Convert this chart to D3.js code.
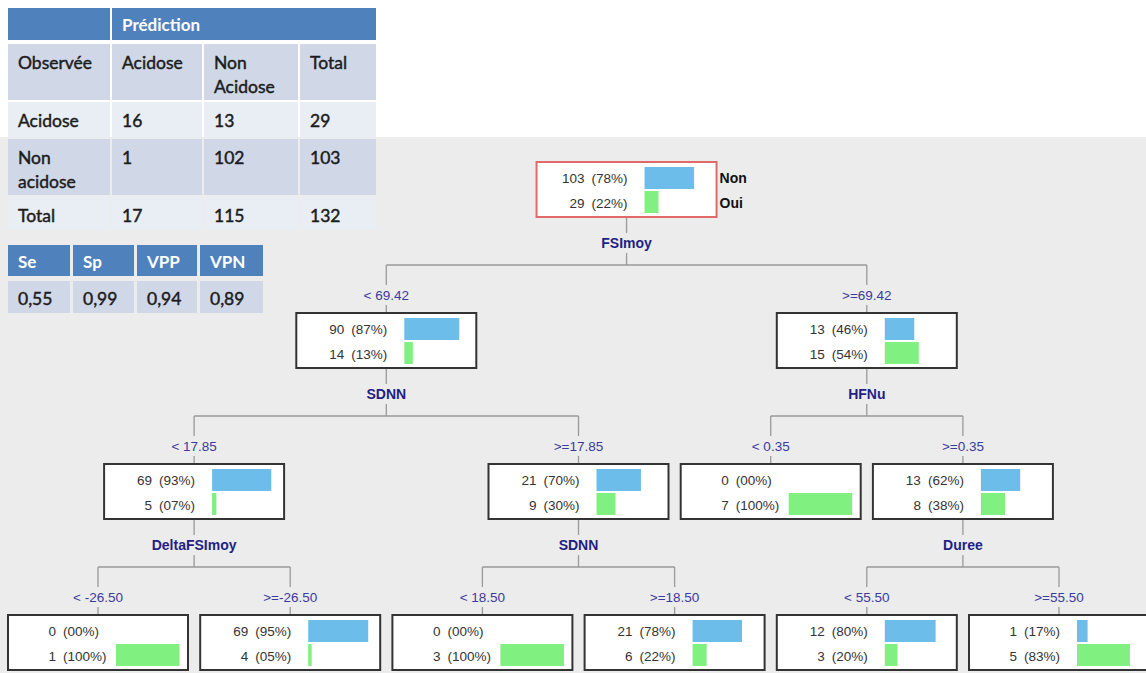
<!DOCTYPE html>
<html>
<head>
<meta charset="utf-8">
<script src="https://cdn.jsdelivr.net/npm/d3@7"></script>
<style>
  html, body { margin: 0; padding: 0; background: #ffffff; }
  svg { display: block; }
</style>
</head>
<body>
<div id="chart"></div>
<script>
// ---------------- DATA ----------------
// Confusion matrix
const predictionTitle = "Prédiction";
const confHeader = ["Observée", "Acidose", "Non Acidose", "Total"];
const confRowLabels = ["Acidose", "Non acidose", "Total"];
const confAcidose = [16, 1, 17];
const confNonAcidose = [13, 102, 115];
const confTotal = [29, 103, 132];

// Performance metrics
const metricLabels = ["Se", "Sp", "VPP", "VPN"];
const metricValues = ["0,55", "0,99", "0,94", "0,89"];

// Decision tree (flat arrays)
const nodeNames      = ["root", "L", "R", "LL", "LR", "RL", "RR", "LLL", "LLR", "LRL", "LRR", "RRL", "RRR"];
const nodeParents    = [null, "root", "root", "L", "L", "R", "R", "LL", "LL", "LR", "LR", "RR", "RR"];
const nodeConditions = ["", "< 69.42", ">=69.42", "< 17.85", ">=17.85", "< 0.35", ">=0.35", "< -26.50", ">=-26.50", "< 18.50", ">=18.50", "< 55.50", ">=55.50"];
const nodeSplitVars  = ["FSImoy", "SDNN", "HFNu", "DeltaFSImoy", "SDNN", "", "Duree", "", "", "", "", "", ""];
const nonCounts      = [103, 90, 13, 69, 21, 0, 13, 0, 69, 0, 21, 12, 1];
const ouiCounts      = [29, 14, 15, 5, 9, 7, 8, 1, 4, 3, 6, 3, 5];
const classLabels    = ["Non", "Oui"];

// ---------------- LAYOUT ----------------
const W = 1146, H = 673;
const svg = d3.select("#chart").append("svg").attr("width", W).attr("height", H);

// grey panel
svg.append("rect").attr("x", 0).attr("y", 137).attr("width", W).attr("height", H - 137).attr("fill", "#ECECEC");

const tableFont = "Lato, 'Open Sans', sans-serif";
const hdrBlue = "#4F81BD", darkRow = "#D0D8E8", lightRow = "#E9EDF4";
const tableInk = "#1c1c1c";

// ---- Table 1 ----
const t1ColX = [8, 112, 204, 300], t1ColW = [102, 90, 94, 76];
const t1RowY = [44, 102, 139, 197], t1RowH = [56, 35, 56, 33];
const t1 = svg.append("g");
t1.append("rect").attr("x", 8).attr("y", 8).attr("width", 102).attr("height", 32).attr("fill", hdrBlue);
t1.append("rect").attr("x", 112).attr("y", 8).attr("width", 264).attr("height", 32).attr("fill", hdrBlue);
t1.append("text").attr("x", 122).attr("y", 31).attr("fill", "#fff").attr("font-family", tableFont)
  .attr("font-weight", "bold").attr("font-size", 17).text(predictionTitle);

const t1Rows = [confHeader].concat(confRowLabels.map((lab, i) => [lab, confAcidose[i], confNonAcidose[i], confTotal[i]]));
t1Rows.forEach((row, ri) => {
  const fill = (ri % 2 === 0) ? darkRow : lightRow;
  row.forEach((cell, ci) => {
    t1.append("rect").attr("x", t1ColX[ci]).attr("y", t1RowY[ri]).attr("width", t1ColW[ci]).attr("height", t1RowH[ri]).attr("fill", fill);
    const txt = t1.append("text").attr("font-family", tableFont).attr("font-size", 17.5).attr("fill", tableInk)
      .attr("stroke", tableInk).attr("stroke-width", 0.45);
    String(cell).split(" ").forEach((w, li) => {
      txt.append("tspan").attr("x", t1ColX[ci] + 10).attr("y", t1RowY[ri] + 25 + li * 24).text(w);
    });
  });
});

// ---- Table 2 ----
const t2ColX = [8, 73, 137, 200], t2ColW = [62, 61, 60, 63];
const t2 = svg.append("g");
metricLabels.forEach((lab, i) => {
  t2.append("rect").attr("x", t2ColX[i]).attr("y", 245).attr("width", t2ColW[i]).attr("height", 31).attr("fill", hdrBlue);
  t2.append("text").attr("x", t2ColX[i] + 10).attr("y", 268).attr("fill", "#fff").attr("font-family", tableFont)
    .attr("font-weight", "bold").attr("font-size", 17).text(lab);
  t2.append("rect").attr("x", t2ColX[i]).attr("y", 281).attr("width", t2ColW[i]).attr("height", 32).attr("fill", darkRow);
  t2.append("text").attr("x", t2ColX[i] + 10).attr("y", 305).attr("fill", tableInk).attr("font-family", tableFont)
    .attr("stroke", tableInk).attr("stroke-width", 0.45)
    .attr("font-size", 17.5).text(metricValues[i]);
});

// ---- Tree ----
const treeFont = "'Liberation Sans', Arial, sans-serif";
const rows = nodeNames.map((n, i) => ({
  name: n, parent: nodeParents[i], cond: nodeConditions[i], split: nodeSplitVars[i],
  non: nonCounts[i], oui: ouiCounts[i]
}));
const root = d3.stratify().id(d => d.name).parentId(d => d.parent)(rows);
d3.tree().nodeSize([192.2, 151]).separation(() => 1)(root);
const minX = d3.min(root.descendants(), d => d.x);
const offX = 98 - minX, offY = 162;
const boxW = 180, boxH = 55;
const barScale = d3.scaleLinear().domain([0, 1]).range([0, 63.5]);
const pctFmt = v => "(" + d3.format("02d")(Math.round(v * 100)) + "%)";
const lineColor = "#9A9A9A";

const tg = svg.append("g");
const nodeX = d => d.x + offX, nodeTop = d => d.y + offY;

// connectors
root.descendants().filter(d => d.children).forEach(p => {
  const px = nodeX(p), pt = nodeTop(p);
  tg.append("line").attr("x1", px).attr("x2", px).attr("y1", pt + boxH).attr("y2", pt + 71).attr("stroke", lineColor).attr("stroke-width", 1.3);
  tg.append("line").attr("x1", px).attr("x2", px).attr("y1", pt + 91).attr("y2", pt + 103).attr("stroke", lineColor).attr("stroke-width", 1.3);
  const xs = p.children.map(nodeX);
  tg.append("line").attr("x1", d3.min(xs)).attr("x2", d3.max(xs)).attr("y1", pt + 103).attr("y2", pt + 103).attr("stroke", lineColor).attr("stroke-width", 1.3);
  tg.append("text").attr("x", px).attr("y", pt + 86).attr("text-anchor", "middle").attr("font-family", treeFont)
    .attr("font-weight", "bold").attr("font-size", 14).attr("fill", "#1F1F85").text(p.data.split);
  p.children.forEach(c => {
    const x = nodeX(c), t = nodeTop(c);
    tg.append("line").attr("x1", x).attr("x2", x).attr("y1", pt + 103).attr("y2", t - 28).attr("stroke", lineColor).attr("stroke-width", 1.3);
    tg.append("line").attr("x1", x).attr("x2", x).attr("y1", t - 8).attr("y2", t).attr("stroke", lineColor).attr("stroke-width", 1.3);
    tg.append("text").attr("x", x).attr("y", t - 13).attr("text-anchor", "middle").attr("font-family", treeFont)
      .attr("font-size", 13.5).attr("fill", "#3A3A9E").text(c.data.cond);
  });
});

// node boxes
root.descendants().forEach(d => {
  const x = nodeX(d), t = nodeTop(d);
  const g = tg.append("g");
  g.append("rect").attr("x", x - boxW / 2).attr("y", t).attr("width", boxW).attr("height", boxH)
    .attr("fill", "#fff").attr("stroke", d.depth === 0 ? "#E06A6A" : "#333").attr("stroke-width", 2);
  const total = d.data.non + d.data.oui;
  const vals = [d.data.non, d.data.oui];
  const colors = ["#6CBDE9", "#80F080"];
  vals.forEach((v, i) => {
    const frac = v / total;
    g.append("rect").attr("x", x + 18).attr("y", t + 5 + i * 24).attr("width", barScale(frac)).attr("height", 22).attr("fill", colors[i]);
    g.append("text").attr("x", x - 42).attr("y", t + 21 + i * 25).attr("text-anchor", "end").attr("font-family", treeFont)
      .attr("font-size", 13.5).attr("fill", "#333").text(v);
    g.append("text").attr("x", x - 35).attr("y", t + 21 + i * 25).attr("font-family", treeFont)
      .attr("font-size", 13.5).attr("fill", "#333").text(pctFmt(frac));
  });
  if (d.depth === 0) {
    classLabels.forEach((lab, i) => {
      g.append("text").attr("x", x + boxW / 2 + 3).attr("y", t + 21 + i * 25).attr("font-family", treeFont)
        .attr("font-weight", "bold").attr("font-size", 14).attr("fill", "#111").text(lab);
    });
  }
});
</script>
</body>
</html>
